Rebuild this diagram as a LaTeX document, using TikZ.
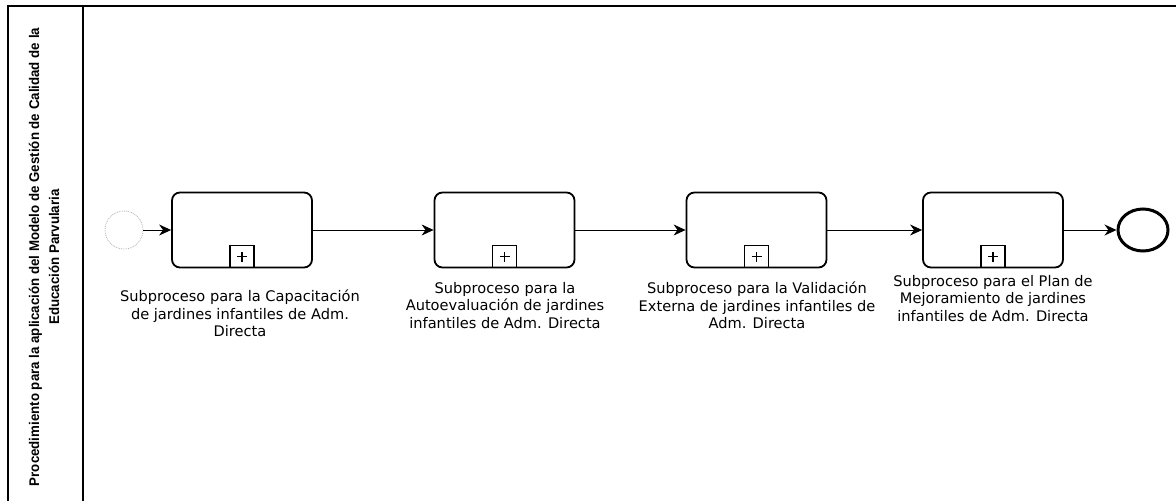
\documentclass[tikz,border=0pt]{standalone}
\usepackage{fontspec}
\setmainfont{DejaVu Sans}
\newfontfamily\titlefont[FakeStretch=0.95]{Liberation Sans}
\usetikzlibrary{arrows.meta,shapes.geometric}
\begin{document}
\begin{tikzpicture}[x=1pt,y=-1pt,
  task/.style={draw, line width=1.8pt, rounded corners=8pt, minimum width=140pt, minimum height=75pt, inner sep=0pt},
  marker/.style={draw, line width=1.5pt, minimum width=24pt, minimum height=22pt, inner sep=0pt},
  plussign/.style={line width=1.5pt},
  flow/.style={line width=0.9pt, -{Stealth[length=12pt,width=11pt]}},
  lbl/.style={align=center, font=\fontsize{14.6}{17.5}\selectfont, inner sep=0pt, anchor=north},
  lane/.style={line width=1.6pt}]
\useasboundingbox (0,0) rectangle (1176,501);
\fill[white] (0,0) rectangle (1176,501);
% pool / lane frame
\coordinate (ptr) at (1176,6);
\coordinate (ptl) at (8,6);
\coordinate (pbl) at (8,501);
\coordinate (dtop) at (83,6);
\coordinate (dbot) at (83,501);
\draw[lane] (ptr) -- (ptl) -- (pbl);
\draw[lane] (dtop) -- (dbot);
\node[rotate=90, align=center, inner sep=0pt,
      font=\titlefont\bfseries\fontsize{14}{20}\selectfont] (title) at (44,257)
  {Procedimiento para la aplicación del Modelo de Gestión de Calidad de la\\Educación Parvularia};
% events
\node[circle, draw=gray!60, densely dotted, line width=0.8pt, minimum size=38pt, inner sep=0pt] (start) at (124,230) {};
\node[ellipse, draw, line width=3pt, minimum width=50pt, minimum height=42pt, inner sep=0pt] (end) at (1143,230) {};
% tasks
\node[task] (t1) at (242,230) {};
\node[task] (t2) at (504.5,230) {};
\node[task] (t3) at (756.5,230) {};
\node[task] (t4) at (993,230) {};
\foreach \t in {t1,t2,t3,t4}{
  \node[marker, anchor=south] (m\t) at (\t.south) {};
  \draw[plussign] ([xshift=-5pt]m\t.center) -- ([xshift=5pt]m\t.center);
  \draw[plussign] ([yshift=-5pt]m\t.center) -- ([yshift=5pt]m\t.center);
}
% flows
\draw[flow] (start) -- (t1);
\draw[flow] (t1) -- (t2);
\draw[flow] (t2) -- (t3);
\draw[flow] (t3) -- (t4);
\draw[flow] (t4) -- (end);
% labels
\node[lbl] (l1) at (240,290) {Subproceso para la Capacitación\\de jardines infantiles de Adm.\\Directa};
\node[lbl] (l2) at (505,282) {Subproceso para la\\Autoevaluación de jardines\\infantiles de Adm. Directa};
\node[lbl] (l3) at (757,282) {Subproceso para la Validación\\Externa de jardines infantiles de\\Adm. Directa};
\node[lbl] (l4) at (993,275) {Subproceso para el Plan de\\Mejoramiento de jardines\\infantiles de Adm. Directa};
\end{tikzpicture}
\end{document}
